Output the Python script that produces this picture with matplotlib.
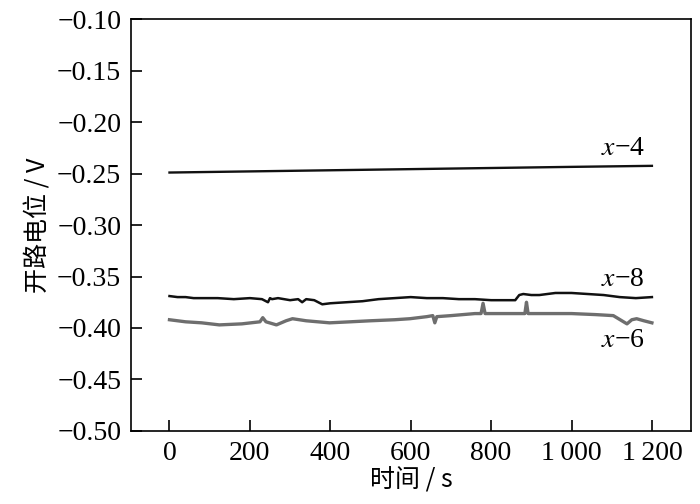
import numpy as np
import matplotlib
matplotlib.use("Agg")
import matplotlib.pyplot as plt

plt.rcParams['font.family'] = ['Liberation Serif', 'Noto Sans CJK SC']
plt.rcParams['mathtext.fontset'] = 'stix'

# x-4: almost flat, slight upward drift
t_x4 = [0, 200, 400, 600, 800, 1000, 1200]
v_x4 = [-0.249, -0.2479, -0.2468, -0.2457, -0.2446, -0.2435, -0.2425]

# x-8: noisy around -0.37
t_x8 = [0, 20, 40, 60, 80, 120, 160, 200, 230, 245, 250, 255, 270, 300, 320, 330, 340,
        360, 380, 400, 440, 480, 520, 560, 600, 640, 680, 720, 760, 800, 820,
        860, 870, 880, 900, 920, 960, 1000, 1040, 1080, 1120, 1160, 1200]
v_x8 = [-0.369, -0.370, -0.370, -0.371, -0.371, -0.371, -0.372, -0.371, -0.372,
        -0.375, -0.371, -0.372, -0.371, -0.373, -0.372, -0.375, -0.372, -0.373,
        -0.377, -0.376, -0.375, -0.374, -0.372, -0.371, -0.370, -0.371, -0.371,
        -0.372, -0.372, -0.373, -0.373, -0.373, -0.368, -0.367, -0.368, -0.368,
        -0.366, -0.366, -0.367, -0.368, -0.370, -0.371, -0.370]

# x-6: grey trace with a few spikes
t_x6 = [0, 40, 80, 124, 180, 225, 232, 240, 266, 290, 306, 340, 398, 450, 500,
        560, 598, 640, 655, 660, 665, 700, 760, 775, 780, 785, 820, 860, 884,
        888, 892, 940, 1000, 1060, 1104, 1138, 1150, 1162, 1180, 1200]
v_x6 = [-0.392, -0.394, -0.395, -0.397, -0.396, -0.394, -0.390, -0.394, -0.397,
        -0.393, -0.391, -0.393, -0.395, -0.394, -0.393, -0.392, -0.391, -0.389,
        -0.388, -0.395, -0.389, -0.388, -0.386, -0.386, -0.376, -0.386, -0.386,
        -0.386, -0.386, -0.375, -0.386, -0.386, -0.386, -0.387, -0.388, -0.396,
        -0.392, -0.391, -0.393, -0.395]

series_labels = ['$\\it{x}$\u22124', '$\\it{x}$\u22128', '$\\it{x}$\u22126']
label_y = [-0.226, -0.353, -0.412]

x_ticks = [0, 200, 400, 600, 800, 1000, 1200]
x_tick_labels = ['0', '200', '400', '600', '800', '1\u2009000', '1\u2009200']
y_ticks = [-0.10, -0.15, -0.20, -0.25, -0.30, -0.35, -0.40, -0.45, -0.50]

fig = plt.figure(figsize=(7, 5.04), dpi=100)
ax = fig.add_axes([0.187, 0.145, 0.800, 0.817])

ax.plot(t_x4, v_x4, color='#111111', lw=1.7)
ax.plot(t_x8, v_x8, color='#111111', lw=1.8)
ax.plot(t_x6, v_x6, color='#6e6e6e', lw=2.4)

for lab, ly in zip(series_labels, label_y):
    ax.text(1182, ly, lab, ha='right', va='center', fontsize=20,
            family=['Liberation Serif', 'DejaVu Sans'])

ax.set_xlim(-96, 1297)
ax.set_ylim(-0.50, -0.10)
ax.set_xticks(x_ticks)
ax.set_xticklabels(x_tick_labels)
ax.set_yticks(y_ticks)
ax.set_yticklabels(['\u2212%.2f' % abs(v) for v in y_ticks])

ax.tick_params(direction='in', length=8, width=1.2, labelsize=20, pad=7,
               top=False, right=False)
for s in ax.spines.values():
    s.set_linewidth(1.2)

ax.set_xlabel('时间 / s', fontsize=18, labelpad=1,
              family=['Noto Sans CJK SC', 'Liberation Serif'])
ax.set_ylabel('开路电位 / V', fontsize=18, labelpad=4,
              family=['Noto Sans CJK SC', 'Liberation Serif'])

fig.savefig('out.png', dpi=100)
